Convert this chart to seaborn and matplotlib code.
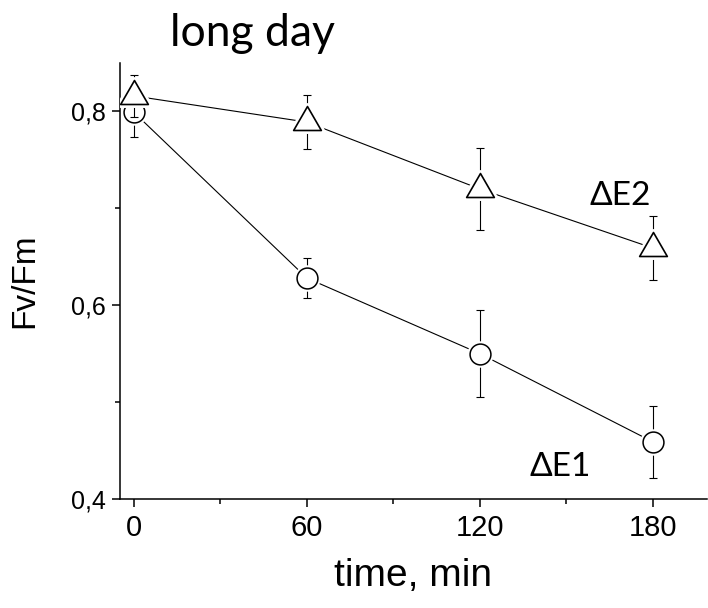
import numpy as np
import pandas as pd
import matplotlib
matplotlib.use("Agg")
import matplotlib.pyplot as plt
from matplotlib.path import Path
from matplotlib.markers import MarkerStyle
import seaborn as sns

# ---- data ----
time_min = [0, 60, 120, 180]
e1_mean = [0.799, 0.628, 0.550, 0.459]
e1_err = [0.025, 0.021, 0.045, 0.037]
e2_mean = [0.816, 0.789, 0.720, 0.659]
e2_err = [0.022, 0.028, 0.042, 0.033]
series_names = ["\u0394E1", "\u0394E2"]
xticks = [0, 60, 120, 180]
xtick_labels = ["0", "60", "120", "180"]
yticks = [0.4, 0.6, 0.8]
ytick_labels = ["0,4", "0,6", "0,8"]
title_text = "long day"
xlabel_text = "time, min"
ylabel_text = "Fv/Fm"

df = pd.DataFrame({
    "time": time_min * 2,
    "value": e1_mean + e2_mean,
    "err": e1_err + e2_err,
    "series": [series_names[0]] * 4 + [series_names[1]] * 4,
})

sns.set_style("ticks")
plt.rcParams["font.family"] = ["Liberation Sans", "DejaVu Sans"]

fig = plt.figure(figsize=(7.08, 6.08), dpi=100)
ax = fig.add_axes([120 / 708, 109 / 608, 587 / 708, 436 / 608])

# connecting lines
sns.lineplot(data=df, x="time", y="value", units="series", estimator=None,
             color="black", linewidth=0.8, ax=ax, legend=False, zorder=1)

# triangle marker centered on centroid
tri_path = Path([(0, 0.577), (-0.5, -0.289), (0.5, -0.289), (0, 0.577)],
                [Path.MOVETO, Path.LINETO, Path.LINETO, Path.CLOSEPOLY])
tri_marker = MarkerStyle(tri_path, joinstyle="round")
tri_halo = MarkerStyle(tri_path, joinstyle="round")

d1 = df[df.series == series_names[0]]
d2 = df[df.series == series_names[1]]

# circles
ax.errorbar(d1.time, d1.value, yerr=d1.err, fmt="none", ecolor="black",
            elinewidth=0.8, capsize=3, capthick=0.8, zorder=2)
ax.plot(d1.time, d1.value, linestyle="none", marker="o", markersize=15,
        markerfacecolor="white", markeredgecolor="white", markeredgewidth=4, zorder=3)
ax.plot(d1.time, d1.value, linestyle="none", marker="o", markersize=15,
        markerfacecolor="white", markeredgecolor="black", markeredgewidth=1.1, zorder=4)

# triangles
ax.errorbar(d2.time, d2.value, yerr=d2.err, fmt="none", ecolor="black",
            elinewidth=0.8, capsize=3, capthick=0.8, zorder=5)
ax.plot(d2.time, d2.value, linestyle="none", marker=tri_halo, markersize=23,
        markerfacecolor="white", markeredgecolor="white", markeredgewidth=5, zorder=6)
ax.plot(d2.time, d2.value, linestyle="none", marker=tri_marker, markersize=23,
        markerfacecolor="white", markeredgecolor="black", markeredgewidth=1.2, zorder=7)

# axes
ax.set_xlim(-4.85, 198.8)
ax.set_ylim(0.4, 0.85)
ax.set_xticks(xticks)
ax.set_xticklabels(xtick_labels)
ax.set_yticks(yticks)
ax.set_yticklabels(ytick_labels)
ax.set_xticks([30, 90, 150], minor=True)
ax.set_yticks([0.5, 0.7], minor=True)
ax.tick_params(axis="both", which="major", direction="out", length=5.5, width=1.1,
               color="black", labelcolor="black")
ax.tick_params(axis="x", which="major", labelsize=21, pad=5)
ax.tick_params(axis="y", which="major", labelsize=18, pad=5)
ax.tick_params(axis="both", which="minor", direction="out", length=3.5, width=1.1,
               color="black")
for s in ["top", "right"]:
    ax.spines[s].set_visible(False)
for s in ["left", "bottom"]:
    ax.spines[s].set_linewidth(1.1)
    ax.spines[s].set_color("black")
ax.set_facecolor("white")

ax.set_xlabel(xlabel_text, fontsize=28, labelpad=12, color="black")
ax.set_ylabel(ylabel_text, fontsize=24, labelpad=22, color="black")

# series labels
ax.text(168.6, 0.713, series_names[1], fontsize=24, family=["Lato", "DejaVu Sans"],
        ha="center", va="center", color="black")
ax.text(148, 0.433, series_names[0], fontsize=24, family=["Lato", "DejaVu Sans"],
        ha="center", va="center", color="black")

fig.text(253 / 708, 1 - 33 / 608, title_text, fontsize=32, family=["Lato", "DejaVu Sans"],
         ha="center", va="center", color="black")

fig.savefig("out.png", dpi=100, facecolor="white")
